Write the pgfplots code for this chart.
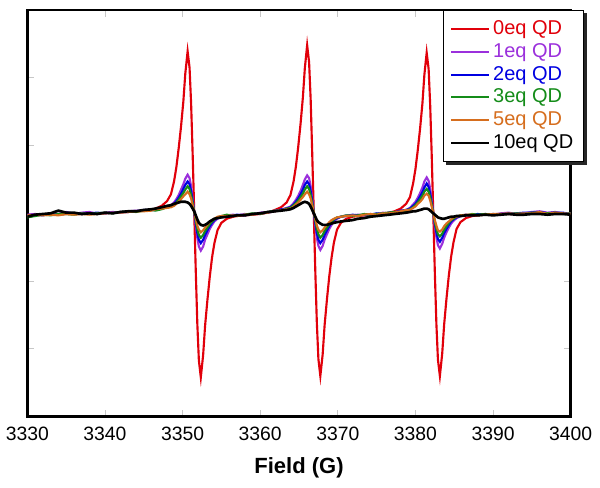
\documentclass[border=0pt]{standalone}
\usepackage{pgfplots}
\pgfplotsset{compat=1.18}
\usepackage{pgfplotstable}
\usepackage{fontspec}
\setmainfont{Liberation Sans}
\definecolor{cRed}{RGB}{225,0,10}
\definecolor{cPur}{RGB}{155,48,220}
\definecolor{cBlu}{RGB}{0,0,225}
\definecolor{cGrn}{RGB}{20,140,25}
\definecolor{cOra}{RGB}{214,110,30}

\pgfplotstableread{
x r p b g o k
3330 -0.03 -0.02 -0.03 -0.06 -0.03 -0.05
3331 -0.03 -0.01 -0.02 -0.04 -0.02 -0.02
3332 -0.02 -0.02 -0.03 -0.02 -0.03 -0.01
3333 -0.02 0.00 -0.01 -0.03 -0.02 0.00
3334 -0.02 -0.01 -0.02 -0.01 -0.03 0.04
3335 -0.01 0.02 0.01 -0.01 -0.01 0.01
3336 -0.01 -0.01 0.00 -0.02 -0.02 0.01
3337 -0.01 0.01 -0.01 0.00 -0.01 -0.01
3338 0.00 0.02 0.00 -0.01 -0.02 0.00
3339 0.00 -0.01 0.01 0.00 -0.01 -0.01
3340 0.00 0.01 0.00 0.01 0.00 0.01
3341 0.01 0.02 0.01 0.00 0.01 0.00
3342 0.02 0.01 0.02 0.02 0.01 0.02
3343 0.02 0.03 0.02 0.03 0.02 0.03
3344 0.03 0.04 0.03 0.02 0.03 0.03
3345 0.04 0.04 0.05 0.04 0.03 0.05
3346 0.05 0.06 0.05 0.05 0.04 0.06
3346.5 0.07 0.06 0.05 0.04 0.06 0.07
3347.3 0.11 0.07 0.08 0.06 0.07 0.09
3348.0 0.18 0.10 0.08 0.09 0.08 0.11
3348.5 0.28 0.12 0.11 0.10 0.09 0.12
3348.9 0.47 0.16 0.14 0.13 0.11 0.14
3349.2 0.68 0.21 0.18 0.16 0.14 0.15
3349.5 0.96 0.27 0.23 0.20 0.17 0.16
3349.8 1.28 0.35 0.29 0.25 0.21 0.17
3350.1 1.65 0.43 0.36 0.30 0.25 0.17
3350.35 2.06 0.51 0.42 0.35 0.28 0.17
3350.65 2.39 0.57 0.47 0.40 0.32 0.16
3350.9 2.15 0.52 0.43 0.36 0.28 0.14
3351.1 1.62 0.40 0.33 0.27 0.22 0.11
3351.3 0.87 0.22 0.18 0.15 0.12 0.07
3351.5 0.02 0.02 0.02 0.02 0.02 0.03
3351.7 -0.85 -0.18 -0.14 -0.11 -0.08 -0.03
3351.9 -1.63 -0.36 -0.29 -0.23 -0.18 -0.09
3352.1 -2.17 -0.49 -0.39 -0.32 -0.24 -0.14
3352.35 -2.42 -0.55 -0.44 -0.36 -0.28 -0.17
3352.65 -2.09 -0.49 -0.39 -0.32 -0.25 -0.18
3352.9 -1.66 -0.39 -0.32 -0.26 -0.21 -0.17
3353.2 -1.28 -0.31 -0.25 -0.21 -0.17 -0.15
3353.5 -0.94 -0.23 -0.19 -0.16 -0.13 -0.12
3353.8 -0.65 -0.17 -0.14 -0.12 -0.10 -0.10
3354.1 -0.44 -0.12 -0.10 -0.09 -0.08 -0.08
3354.5 -0.25 -0.08 -0.07 -0.06 -0.05 -0.07
3355.0 -0.14 -0.05 -0.05 -0.04 -0.04 -0.06
3355.7 -0.08 -0.03 -0.04 -0.02 -0.04 -0.05
3356.5 -0.05 -0.02 -0.03 -0.04 -0.03 -0.04
3357 -0.04 -0.03 -0.02 -0.03 -0.04 -0.03
3358 -0.03 -0.01 -0.03 -0.02 -0.02 -0.03
3359 -0.02 -0.02 -0.01 0.00 -0.02 -0.01
3360 -0.01 0.01 0.00 -0.01 0.00 0.00
3361 0.01 0.02 0.01 0.02 0.01 0.02
3361.9 0.05 0.04 0.03 0.04 0.03 0.03
3362.7 0.09 0.05 0.06 0.04 0.05 0.04
3363.4 0.16 0.08 0.07 0.07 0.06 0.05
3363.9 0.27 0.10 0.09 0.08 0.07 0.06
3364.3 0.47 0.15 0.13 0.12 0.10 0.08
3364.6 0.69 0.20 0.17 0.15 0.13 0.10
3364.9 0.98 0.26 0.22 0.19 0.16 0.12
3365.2 1.32 0.33 0.28 0.24 0.20 0.14
3365.5 1.71 0.42 0.35 0.29 0.24 0.16
3365.75 2.14 0.50 0.42 0.35 0.28 0.17
3366.05 2.48 0.56 0.47 0.40 0.32 0.16
3366.3 2.23 0.52 0.43 0.36 0.28 0.14
3366.5 1.69 0.40 0.33 0.27 0.22 0.10
3366.7 0.90 0.22 0.18 0.15 0.12 0.05
3366.9 0.02 0.02 0.02 0.02 0.02 0.00
3367.1 -0.85 -0.18 -0.14 -0.11 -0.08 -0.05
3367.3 -1.62 -0.36 -0.29 -0.23 -0.18 -0.10
3367.5 -2.15 -0.48 -0.39 -0.31 -0.24 -0.13
3367.75 -2.40 -0.54 -0.44 -0.36 -0.28 -0.15
3368.05 -2.08 -0.48 -0.39 -0.32 -0.25 -0.17
3368.3 -1.65 -0.39 -0.32 -0.26 -0.21 -0.17
3368.6 -1.27 -0.31 -0.25 -0.21 -0.17 -0.17
3368.9 -0.93 -0.23 -0.19 -0.16 -0.13 -0.16
3369.2 -0.65 -0.17 -0.14 -0.12 -0.10 -0.15
3369.5 -0.43 -0.12 -0.10 -0.09 -0.08 -0.14
3369.9 -0.24 -0.08 -0.07 -0.06 -0.06 -0.13
3370.4 -0.14 -0.05 -0.05 -0.05 -0.05 -0.12
3371.1 -0.08 -0.03 -0.04 -0.03 -0.04 -0.11
3371.9 -0.05 -0.03 -0.02 -0.04 -0.03 -0.10
3372.6 -0.04 -0.02 -0.03 -0.03 -0.04 -0.08
3373.4 -0.03 -0.03 -0.02 -0.01 -0.02 -0.07
3374.2 -0.02 -0.01 -0.02 -0.02 -0.01 -0.05
3375.0 -0.01 -0.02 0.00 -0.01 -0.02 -0.04
3375.8 0.00 0.01 -0.01 0.00 0.00 -0.03
3376.6 0.01 0.00 0.01 0.01 0.00 -0.02
3377.3 0.03 0.02 0.01 0.02 0.01 -0.01
3378.1 0.07 0.03 0.04 0.02 0.03 0.00
3378.8 0.14 0.05 0.05 0.04 0.05 0.01
3379.3 0.24 0.08 0.07 0.06 0.05 0.02
3379.7 0.44 0.13 0.11 0.09 0.08 0.03
3380.0 0.65 0.17 0.14 0.12 0.10 0.03
3380.3 0.93 0.23 0.19 0.16 0.14 0.04
3380.6 1.25 0.30 0.25 0.21 0.17 0.05
3380.9 1.62 0.38 0.31 0.26 0.21 0.06
3381.15 2.04 0.47 0.38 0.32 0.26 0.07
3381.45 2.37 0.53 0.44 0.36 0.29 0.07
3381.7 2.13 0.48 0.39 0.32 0.26 0.06
3381.9 1.60 0.36 0.29 0.24 0.19 0.04
3382.1 0.85 0.19 0.15 0.13 0.10 0.02
3382.3 0.00 0.00 0.00 0.00 0.00 0.00
3382.5 -0.87 -0.19 -0.15 -0.13 -0.10 -0.02
3382.7 -1.63 -0.35 -0.28 -0.23 -0.18 -0.04
3382.9 -2.16 -0.47 -0.38 -0.31 -0.25 -0.06
3383.15 -2.40 -0.52 -0.42 -0.34 -0.27 -0.07
3383.45 -2.07 -0.45 -0.36 -0.30 -0.24 -0.08
3383.7 -1.64 -0.36 -0.29 -0.24 -0.19 -0.08
3384.0 -1.26 -0.28 -0.23 -0.19 -0.15 -0.07
3384.3 -0.92 -0.21 -0.17 -0.14 -0.12 -0.06
3384.6 -0.64 -0.15 -0.12 -0.10 -0.09 -0.05
3384.9 -0.43 -0.11 -0.09 -0.08 -0.06 -0.05
3385.3 -0.23 -0.07 -0.06 -0.05 -0.05 -0.04
3385.8 -0.13 -0.04 -0.04 -0.03 -0.03 -0.04
3386.5 -0.07 -0.03 -0.02 -0.03 -0.02 -0.03
3387.3 -0.04 -0.02 -0.03 -0.01 -0.02 -0.03
3388 -0.03 -0.02 -0.01 -0.02 -0.03 -0.03
3389 -0.02 -0.01 -0.02 -0.01 -0.02 -0.02
3390 -0.02 -0.02 -0.01 -0.02 -0.01 -0.03
3391 -0.01 0.00 -0.02 -0.01 -0.01 -0.02
3392 -0.01 0.01 0.00 -0.01 0.00 -0.01
3393 -0.01 -0.01 0.00 0.00 -0.01 -0.02
3394 -0.01 0.00 0.01 -0.01 0.00 -0.02
3395 0.00 0.02 0.01 0.01 0.00 -0.01
3396 0.00 0.03 0.02 0.01 0.02 -0.01
3397 0.00 0.01 0.00 0.00 -0.01 -0.02
3398 0.00 0.02 0.01 0.01 0.01 -0.01
3399 0.00 0.00 0.01 -0.01 0.00 -0.01
3400 0.00 0.00 -0.01 0.00 -0.01 -0.02
}\epr

\begin{document}
\begin{tikzpicture}
\begin{axis}[
  name=ax, at={(0,0)}, anchor=south west,
  scale only axis, width=407.5pt, height=305pt,
  xmin=3330, xmax=3400, ymin=-3, ymax=3,
  xtick={3330,3340,...,3400},
  ytick={-2,-1,0,1,2}, yticklabels={},
  tick align=inside, major tick length=5.25pt,
  tick style={color=black!22, line width=0.6pt},
  axis line style={line width=1.9pt},
  /pgf/number format/assume math mode=true,
  /pgf/number format/1000 sep={},
  xticklabel style={font=\fontsize{14.5}{17}\selectfont, yshift=-4pt},
  xlabel={Field (G)},
  xlabel style={font=\fontsize{16.5}{20}\selectfont\bfseries, at={(axis description cs:0.5,0)}, anchor=center, yshift=-38.5pt},
  legend image code/.code={\draw[#1, line width=1.6pt] (0pt,0pt) -- (28pt,0pt);},
  legend cell align=left,
  legend style={name=leg, at={(axis description cs:1,1)}, anchor=north east, xshift=10pt,
    draw=black, line width=1.1pt, fill=white,
    font=\fontsize{15}{18}\selectfont,
    inner xsep=5pt, inner ysep=7pt, row sep=3pt,
    nodes={inner xsep=2.5pt, inner ysep=0pt, text height=11pt, text depth=3pt}},
  every axis plot/.append style={line width=1.6pt},
]
\addplot[cRed, no markers] table[x=x,y=r]{\epr};
\addlegendentry{\textcolor{cRed}{0eq QD}}
\addplot[cPur, no markers] table[x=x,y=p]{\epr};
\addlegendentry{\textcolor{cPur}{1eq QD}}
\addplot[cBlu, no markers] table[x=x,y=b]{\epr};
\addlegendentry{\textcolor{cBlu}{2eq QD}}
\addplot[cGrn, no markers] table[x=x,y=g]{\epr};
\addlegendentry{\textcolor{cGrn}{3eq QD}}
\addplot[cOra, no markers] table[x=x,y=o]{\epr};
\addlegendentry{\textcolor{cOra}{5eq QD}}
\addplot[black, no markers, line width=2pt] table[x=x,y=k]{\epr};
\addlegendentry{10eq QD}
\end{axis}
\fill[black!85] ([yshift=-2.5pt]leg.north east) rectangle ([xshift=2.5pt,yshift=-2.5pt]leg.south east);
\fill[black!85] ([xshift=2.5pt]leg.south west) rectangle ([xshift=2.5pt,yshift=-2.5pt]leg.south east);
\pgfresetboundingbox
\path[use as bounding box] ([xshift=-20.5pt,yshift=-53.5pt]ax.south west) rectangle ([xshift=22pt,yshift=7.5pt]ax.north east);
\end{tikzpicture}
\end{document}
